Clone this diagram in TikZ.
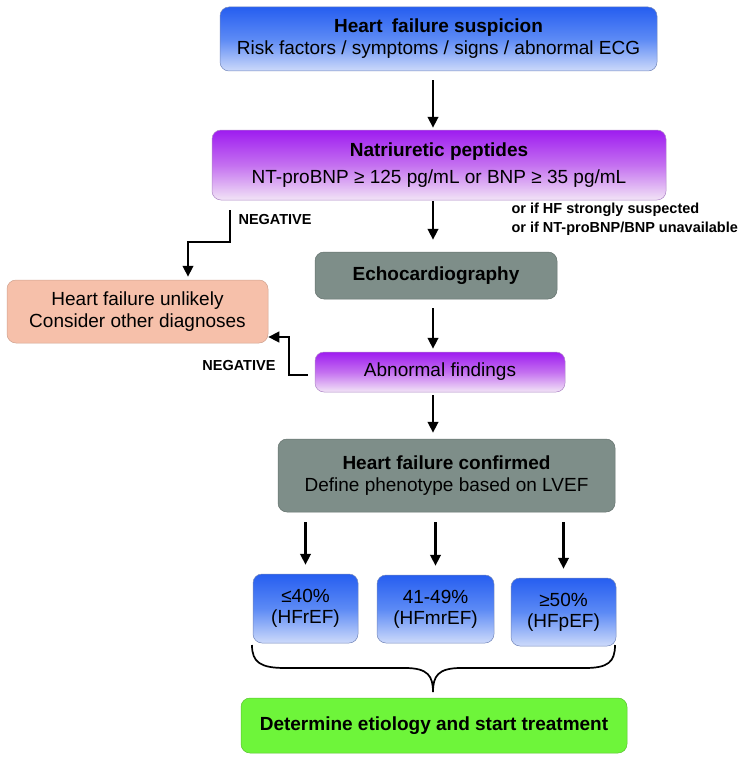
\documentclass[tikz,border=0pt]{standalone}
\usepackage{fontspec}
\setmainfont{Liberation Sans}
\usetikzlibrary{positioning,arrows.meta}

\definecolor{hfblueA}{RGB}{38,94,240}
\definecolor{hfblueB}{RGB}{92,138,245}
\definecolor{hfblueC}{RGB}{205,218,250}
\definecolor{hfpurpA}{RGB}{158,28,240}
\definecolor{hfpurpB}{RGB}{196,112,240}
\definecolor{hfpurpC}{RGB}{242,228,246}
\definecolor{hfgray}{RGB}{126,142,137}
\definecolor{hfpink}{RGB}{246,192,170}
\definecolor{hfgreen}{RGB}{110,245,58}

\begin{document}
\begin{tikzpicture}[x=1pt,y=-1pt,
  every node/.style={font=\fontsize{19}{22}\selectfont},
  box/.style={rounded corners=9pt,align=center,inner sep=0pt,line width=0.5pt},
  bluebox/.style={box,draw=hfblueA!60!black!60,top color=hfblueA,bottom color=hfblueC,middle color=hfblueB},
  purpbox/.style={box,draw=hfpurpA!60!black!50,top color=hfpurpA,bottom color=hfpurpC,middle color=hfpurpB},
  graybox/.style={box,draw=hfgray!80!black,fill=hfgray},
  pinkbox/.style={box,draw=hfpink!85!black,fill=hfpink},
  greenbox/.style={box,draw=hfgreen!80!black,fill=hfgreen},
  neglabel/.style={font=\bfseries\fontsize{14.5}{18}\selectfont},
  arr/.style={-{Triangle[length=11pt,width=10.5pt]},line width=2.5pt},
  brace/.style={line width=1.7pt}
]
\useasboundingbox (0,0) rectangle (745,760);
\coordinate (spine) at (433,0);

\node[bluebox,minimum width=437pt,minimum height=64pt] (susp) at (438.5,39)
  {\textbf{Heart\hspace{4pt} failure suspicion}\\Risk factors / symptoms / signs / abnormal ECG};
\node[purpbox,minimum width=454pt,minimum height=70pt,font=\fontsize{19}{27}\selectfont] (natri) at (439,165)
  {\textbf{Natriuretic peptides}\\NT-proBNP ≥ 125 pg/mL or BNP ≥ 35 pg/mL};
\node[graybox,minimum width=242pt,minimum height=47pt] (echo) at (436,275.5) {\textbf{Echocardiography}};
\node[pinkbox,minimum width=261pt,minimum height=63pt] (unlikely) at (137.5,311.5)
  {Heart failure unlikely\\Consider other diagnoses};
\node[purpbox,minimum width=250pt,minimum height=40pt] (abn) at (440,372) {Abnormal findings};
\node[graybox,minimum width=337pt,minimum height=73pt] (conf) at (446.5,475.5)
  {\textbf{Heart failure confirmed}\\Define phenotype based on LVEF};
\node[bluebox,minimum width=105pt,minimum height=69pt,font=\fontsize{19}{21}\selectfont] (lo) at (305.5,608.5) {≤40\%\\(HFrEF)};
\node[bluebox,minimum width=117pt,minimum height=68pt,font=\fontsize{19}{21}\selectfont] (mid) at (435.5,609) {41-49\%\\(HFmrEF)};
\node[bluebox,minimum width=105pt,minimum height=68pt,font=\fontsize{19}{21}\selectfont] (hi) at (563.5,612) {≥50\%\\(HFpEF)};
\node[greenbox,minimum width=386pt,minimum height=55pt] (etio) at (434,725.5)
  {\textbf{Determine etiology and start treatment}};

\node[neglabel,anchor=west] (negA) at (235,220) {NEGATIVE};
\node[neglabel,anchor=east] (negB) at (279,366) {NEGATIVE};
\node[neglabel,anchor=west,align=left,font=\bfseries\fontsize{14.5}{19.5}\selectfont] (orif) at (508,219)
  {or if HF strongly suspected\\or if NT-proBNP/BNP unavailable};

\draw[arr,shorten <=9pt,shorten >=2pt] (susp.south -| spine) -- (natri.north -| spine);
\draw[arr,shorten <=1pt,shorten >=12pt] (natri.south -| spine) -- (echo.north -| spine);
\draw[arr,shorten <=9pt,shorten >=3pt] (echo.south -| spine) -- (abn.north -| spine);
\draw[arr,shorten <=3pt,shorten >=6pt] (abn.south -| spine) -- (conf.north -| spine);
\foreach \c in {lo,mid,hi}
  \draw[arr,shorten <=10pt,shorten >=9pt] (conf.south -| \c.north) -- (\c.north);

\coordinate (negAtop) at (230,210);
\coordinate (negAbend) at (188,242);
\draw[arr,shorten >=3pt] (negAtop) |- (negAbend) -- (negAbend |- unlikely.north);
\coordinate (negBbend) at (289,337);
\draw[arr,shorten <=7pt] ([yshift=-3pt]abn.west) -| (negBbend) -- (negBbend -| unlikely.east);

\draw[brace] (252,645) .. controls (252,662) and (260,668) .. (285,668) -- (405,668)
  .. controls (428,668) and (433,676) .. (433,692)
  .. controls (433,676) and (438,668) .. (461,668) -- (585,668)
  .. controls (608,668) and (615,662) .. (615,645);
\end{tikzpicture}
\end{document}
